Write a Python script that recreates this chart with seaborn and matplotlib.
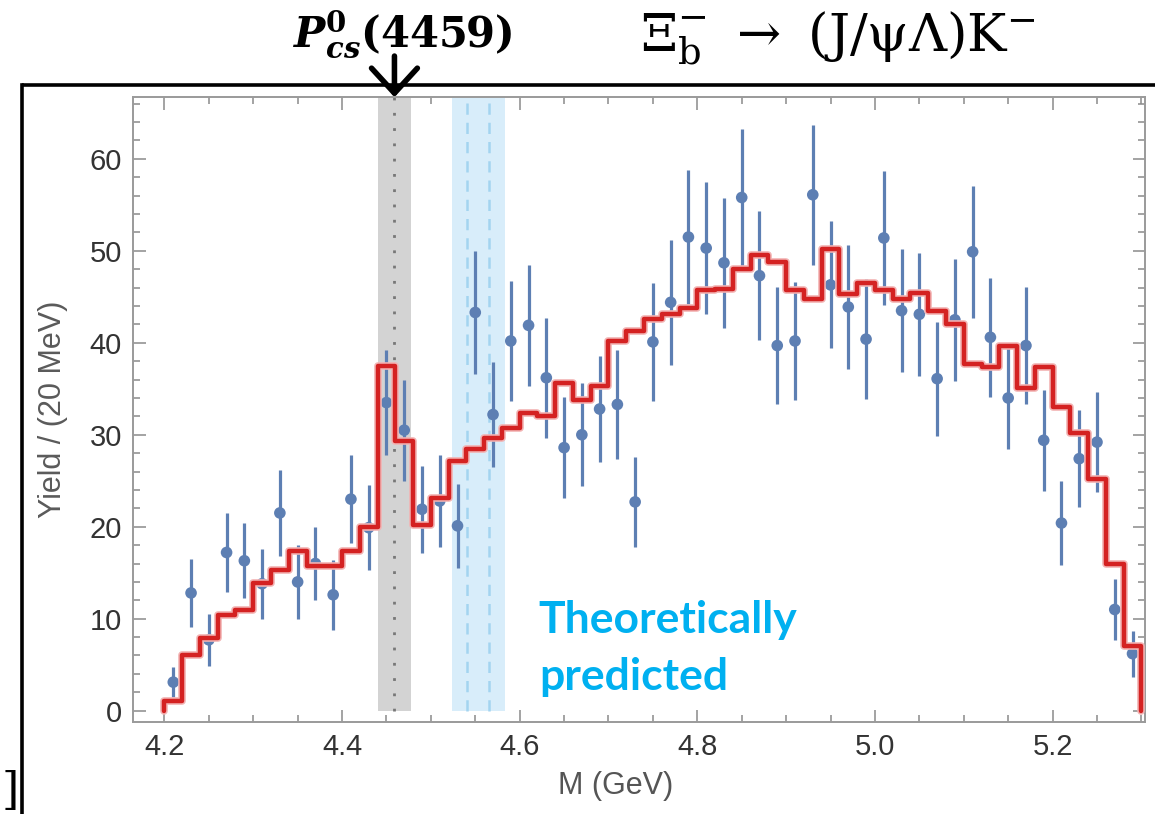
import numpy as np
import pandas as pd
import matplotlib
matplotlib.use("Agg")
import matplotlib.pyplot as plt
import seaborn as sns
from matplotlib.lines import Line2D
from matplotlib.ticker import MultipleLocator

# ==================================
# DATA
# ==================================

mass = [4.21, 4.23, 4.25, 4.27, 4.29, 4.31, 4.33, 4.35, 4.37, 4.39,
        4.41, 4.43, 4.45, 4.47, 4.49, 4.51, 4.53, 4.55, 4.57, 4.59,
        4.61, 4.63, 4.65, 4.67, 4.69, 4.71, 4.73, 4.75, 4.77, 4.79,
        4.81, 4.83, 4.85, 4.87, 4.89, 4.91, 4.93, 4.95, 4.97, 4.99,
        5.01, 5.03, 5.05, 5.07, 5.09, 5.11, 5.13, 5.15, 5.17, 5.19,
        5.21, 5.23, 5.25, 5.27, 5.29]

yields = [3.1, 12.8, 7.7, 17.2, 16.3, 13.8, 21.5, 14.0, 16.0, 12.6,
          23.0, 19.9, 33.5, 30.5, 21.9, 22.8, 20.1, 43.3, 32.2, 40.2,
          41.9, 36.2, 28.6, 30.0, 32.8, 33.3, 22.7, 40.1, 44.4, 51.5,
          50.3, 48.7, 55.8, 47.3, 39.7, 40.2, 56.1, 46.3, 43.9, 40.4,
          51.4, 43.5, 43.1, 36.1, 42.5, 49.9, 40.6, 34.0, 39.7, 29.4,
          20.4, 27.4, 29.2, 11.0, 6.2]

errors = [1.65, 3.7, 2.8, 4.3, 4.1, 3.8, 4.7, 4.0, 4.0, 3.8,
          4.8, 4.6, 5.7, 5.5, 4.75, 5.0, 4.6, 6.7, 5.7, 6.5,
          6.6, 6.5, 5.5, 5.6, 5.8, 5.9, 4.9, 6.45, 6.8, 7.3,
          7.2, 7.1, 7.45, 7.0, 6.4, 6.45, 7.6, 6.9, 6.75, 6.5,
          7.3, 6.7, 6.7, 6.2, 6.6, 7.15, 6.45, 5.55, 6.4, 5.5,
          4.55, 5.25, 5.4, 3.3, 2.5]

fit = [1.1, 6.0, 7.9, 10.4, 10.9, 13.9, 15.3, 17.4, 15.7, 15.7,
       17.4, 20.0, 37.5, 29.3, 20.2, 23.1, 27.1, 28.4, 29.7, 30.7,
       32.4, 32.0, 35.6, 33.8, 35.3, 40.2, 41.3, 42.6, 43.1, 43.8,
       45.7, 45.9, 48.0, 49.5, 48.8, 45.7, 44.8, 50.2, 45.3, 46.5,
       45.7, 44.8, 45.4, 43.5, 42.0, 37.7, 37.4, 39.6, 35.1, 37.4,
       33.0, 30.2, 25.2, 16.0, 7.0]

pcs_mass = 4.459
pcs_band = (4.441, 4.478)
pred_band = (4.5236, 4.5837)
pred_lines = [4.5404, 4.5652]

x_ticks = [4.2, 4.4, 4.6, 4.8, 5.0, 5.2]
x_tick_labels = ["4.2", "4.4", "4.6", "4.8", "5.0", "5.2"]
y_ticks = [0, 10, 20, 30, 40, 50, 60]

BLUE = "#5D7FB3"
RED = "#D42222"

# ==================================
# STYLE
# ==================================

sns.set_theme(style="ticks")
plt.rcParams["font.family"] = ["Liberation Sans", "DejaVu Sans"]
plt.rcParams["mathtext.fontset"] = "dejavuserif"

fig = plt.figure(figsize=(11.55, 8.14), dpi=100)
ax = fig.add_axes([0.1152, 0.1134, 0.8761, 0.7671])

YMIN, YMAX = -1.2, 66.7

# bands
ax.fill_betweenx([0, YMAX], pcs_band[0], pcs_band[1], color="#D3D3D3", lw=0, zorder=1)
ax.fill_betweenx([0, YMAX], pred_band[0], pred_band[1], color="#D8EDFA", lw=0, zorder=1)
ax.vlines(pcs_mass, 0, YMAX, colors="#777777", linestyles=(0, (1, 4.5)), lw=2, zorder=1.5)
ax.vlines(pred_lines, 0, YMAX, colors="#A3D4F0", linestyles=(0, (4.5, 3.2)), lw=1.8, zorder=1.5)

# data points
ax.errorbar(mass, yields, yerr=errors, fmt="none", ecolor=BLUE, elinewidth=2.3,
            capsize=0, zorder=2)
sns.scatterplot(x=mass, y=yields, color=BLUE, s=70, edgecolor="none", zorder=3, ax=ax)

# fit histogram as a closed step outline
edges = [m - 0.01 for m in mass] + [mass[-1] + 0.01]
step = pd.DataFrame({
    "x": [edges[0]] + edges + [edges[-1]],
    "y": [0] + fit + [fit[-1], 0],
})
sns.lineplot(data=step, x="x", y="y", estimator=None, sort=False,
             drawstyle="steps-post", color="#F2B3B3", linewidth=5.5, ax=ax, zorder=3.5)
sns.lineplot(data=step, x="x", y="y", estimator=None, sort=False,
             drawstyle="steps-post", color=RED, linewidth=3.2, ax=ax, zorder=4)

# axes
ax.set_xlim(4.1647, 5.304)
ax.set_ylim(YMIN, YMAX)
ax.set_xticks(x_ticks)
ax.set_xticklabels(x_tick_labels)
ax.set_yticks(y_ticks)
ax.xaxis.set_minor_locator(MultipleLocator(0.05))
ax.yaxis.set_minor_locator(MultipleLocator(2))
ax.tick_params(which="both", direction="in", top=True, right=True,
               colors="#8A8A8A", labelcolor="#333333", width=1.1)
ax.tick_params(which="major", length=9, labelsize=21, pad=8)
ax.tick_params(which="minor", length=5)
for sp in ax.spines.values():
    sp.set_color("#9A9A9A")
    sp.set_linewidth(1.4)

ax.set_xlabel("M (GeV)", fontsize=22, color="#555555")
ax.set_ylabel("Yield / (20 MeV)", fontsize=22, color="#5A5A5A")
ax.xaxis.set_label_coords(0.477, -0.079)
ax.yaxis.set_label_coords(-0.064, 0.5)

# annotation text
ax.text(4.6216, 8.42, "Theoretically", fontsize=32, fontweight="bold",
        color="#00B0F0", family=["Lato", "DejaVu Sans"], va="baseline", zorder=5)
ax.text(4.6225, 2.25, "predicted", fontsize=32, fontweight="bold",
        color="#00B0F0", family=["Lato", "DejaVu Sans"], va="baseline", zorder=5)

ax.annotate("", xy=(pcs_mass, 1.0), xycoords=("data", "axes fraction"),
            xytext=(pcs_mass, 1.066), textcoords=("data", "axes fraction"),
            arrowprops=dict(arrowstyle="->,head_length=0.6,head_width=0.55", lw=4,
                            color="black", shrinkA=0, shrinkB=0, mutation_scale=30),
            annotation_clip=False)

fig.text(293 / 1155, 1 - 48 / 814,
         r"$\mathbfit{P}^{\mathbf{0}}_{\mathbfit{cs}}\mathbf{(4459)}$",
         fontsize=30, ha="left", va="baseline", color="black")
fig.text(640 / 1155, 1 - 51 / 814,
         r"$\mathrm{\Xi}_{\mathrm{b}}^{-}\ \rightarrow\ (\mathrm{J}/\mathrm{\psi}\mathrm{\Lambda})\mathrm{K}^{-}$",
         fontsize=38, ha="left", va="baseline", color="black")

# slide frame
fig.add_artist(Line2D([22 / 1155, 1.0], [1 - 85 / 814] * 2, color="black", lw=2.6,
                      transform=fig.transFigure, solid_capstyle="butt"))
fig.add_artist(Line2D([22 / 1155] * 2, [1 - 85 / 814, 0.0], color="black", lw=2.6,
                      transform=fig.transFigure, solid_capstyle="projecting"))
fig.text(2 / 1155, 1 / 814, "]", fontsize=32, ha="left", va="bottom", color="black",
         family=["DejaVu Serif"])

fig.savefig("out.png", dpi=100)
